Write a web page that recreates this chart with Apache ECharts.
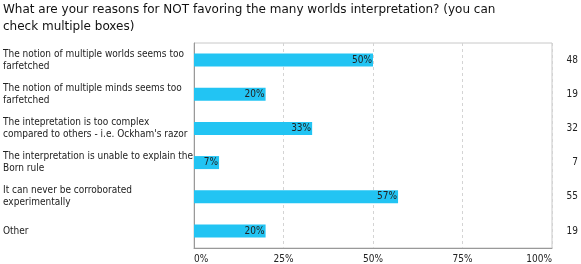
<!DOCTYPE html>
<html>
<head>
<meta charset="utf-8">
<script src="https://cdn.jsdelivr.net/npm/echarts@6/dist/echarts.min.js"></script>
<style>
html,body{margin:0;padding:0;background:#fff;}
#c{width:581px;height:264px;}
</style>
</head>
<body>
<div id="c"></div>
<script>
const titleText = "What are your reasons for NOT favoring the many worlds interpretation? (you can\ncheck multiple boxes)";
const categories = [
  "The notion of multiple worlds seems too\nfarfetched",
  "The notion of multiple minds seems too\nfarfetched",
  "The intepretation is too complex\ncompared to others - i.e. Ockham's razor",
  "The interpretation is unable to explain the\nBorn rule",
  "It can never be corroborated\nexperimentally",
  "Other"
];
const percents = [50, 20, 33, 7, 57, 20];
const counts = [48, 19, 32, 7, 55, 19];
const xTicks = [0, 25, 50, 75, 100];

const FONT = "DejaVu Sans Condensed";
const chart = echarts.init(document.getElementById('c'), null, {renderer: 'canvas'});
chart.setOption({
  animation: false,
  backgroundColor: '#fff',
  title: {
    text: titleText,
    left: 3, top: 1, padding: 0,
    textStyle: {fontFamily: 'DejaVu Sans', fontSize: 12, fontWeight: 'normal', color: '#111', lineHeight: 17}
  },
  grid: {left: 194, right: 29, top: 43, bottom: 15, show: true, borderColor: '#c8c8c8', borderWidth: 1, containLabel: false},
  xAxis: {
    type: 'value', min: xTicks[0], max: xTicks[xTicks.length - 1], interval: 25,
    axisLine: {show: true, lineStyle: {color: '#999'}},
    axisTick: {show: false},
    axisLabel: {formatter: '{value}%', fontFamily: FONT, fontSize: 10, color: '#222', margin: 6, alignMinLabel: 'left', alignMaxLabel: 'right'},
    splitLine: {show: true, lineStyle: {color: '#d4d4d4', type: [3, 3]}}
  },
  yAxis: [{
    type: 'category', data: categories, inverse: true,
    axisLine: {show: true, lineStyle: {color: '#999'}},
    axisTick: {show: false},
    axisLabel: {align: 'left', margin: 191, fontFamily: FONT, fontSize: 10, color: '#222', lineHeight: 12}
  }, {
    type: 'category', data: counts.map(String), inverse: true, position: 'right',
    axisLine: {show: false}, axisTick: {show: false},
    axisLabel: {align: 'right', margin: 26, fontFamily: FONT, fontSize: 10, color: '#222'}
  }],
  series: [{
    type: 'bar', data: percents, yAxisIndex: 0, barWidth: 13,
    itemStyle: {color: '#22c4f3'},
    label: {show: true, position: 'insideRight', distance: 1, formatter: p => p.value + '%', fontFamily: FONT, fontSize: 10, color: '#222'}
  }]
});
</script>
</body>
</html>
